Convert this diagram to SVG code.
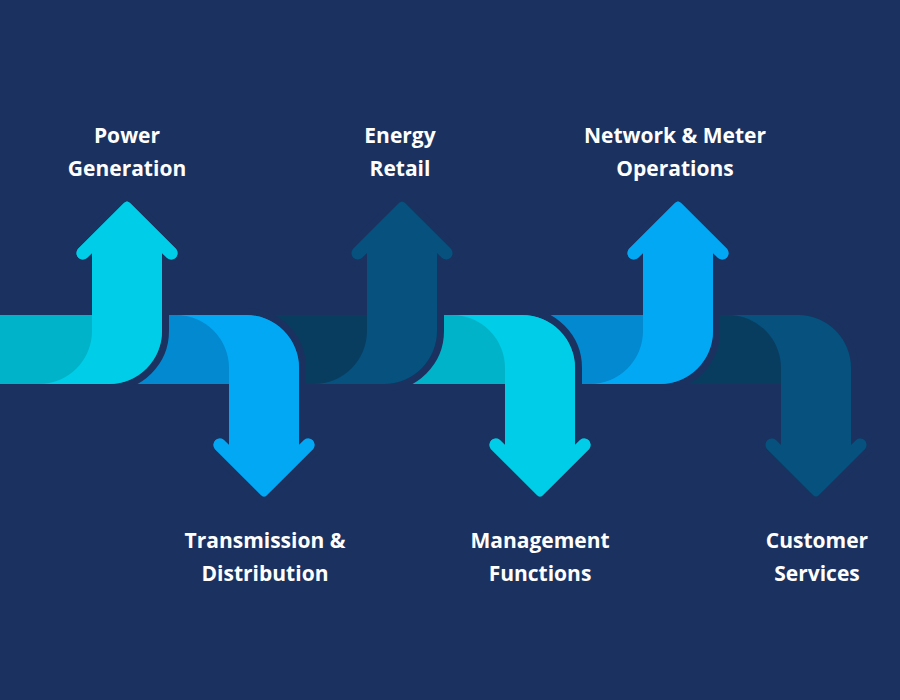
<svg xmlns="http://www.w3.org/2000/svg" width="900" height="700" viewBox="0 0 900 700">
<style>
.bg{fill:#1b3261}
.u{stroke:#1b3261;stroke-width:14;stroke-linejoin:round;paint-order:stroke}
.cyanB{fill:#00b3c9}.cyan{fill:#00cde7}
.blueB{fill:#0289cf}.blue{fill:#03a8f4}
.navyB{fill:#083d60}.navy{fill:#06517e}
text{font-family:"Open Sans","Liberation Sans",sans-serif;font-weight:700;font-size:21px;fill:#ffffff;text-anchor:middle}
</style>
<rect class="bg" x="0" y="0" width="900" height="700"/>
<g id="seg6-customer-services">
<path class="u navyB" d="M 638,315 L 798,315 A 53 53 0 0 1 851,368 L 851,445 L 856.1,439.9 A 6.4 6.4 0 0 1 865.1,448.9 L 819,495 Q 816,498 813,495 L 766.9,448.9 A 6.4 6.4 0 0 1 775.9,439.9 L 781,445 L 781,384 L 638,384 Z"/>
<path class="navy" d="M 728,315 L 798,315 A 53 53 0 0 1 851,368 L 851,445 L 856.1,439.9 A 6.4 6.4 0 0 1 865.1,448.9 L 819,495 Q 816,498 813,495 L 766.9,448.9 A 6.4 6.4 0 0 1 775.9,439.9 L 781,445 L 781,368 A 53 53 0 0 0 728,315 Z"/>
<text x="817" y="548">Customer</text>
<text x="817" y="581">Services</text>
</g>
<g id="seg5-network-meter">
<path class="u blueB" d="M 500,315 L 643,315 L 643,253 L 637.9,258.1 A 6.4 6.4 0 0 1 628.9,249.1 L 675,203 Q 678,200 681,203 L 727.1,249.1 A 6.4 6.4 0 0 1 718.1,258.1 L 713,253 L 713,331 A 53 53 0 0 1 660,384 L 500,384 Z"/>
<path class="blue" d="M 590,384 A 53 53 0 0 0 643,331 L 643,253 L 637.9,258.1 A 6.4 6.4 0 0 1 628.9,249.1 L 675,203 Q 678,200 681,203 L 727.1,249.1 A 6.4 6.4 0 0 1 718.1,258.1 L 713,253 L 713,331 A 53 53 0 0 1 660,384 Z"/>
<text x="675" y="143">Network &amp; Meter</text>
<text x="675" y="176">Operations</text>
</g>
<g id="seg4-management">
<path class="u cyanB" d="M 362,315 L 522,315 A 53 53 0 0 1 575,368 L 575,445 L 580.1,439.9 A 6.4 6.4 0 0 1 589.1,448.9 L 543,495 Q 540,498 537,495 L 490.9,448.9 A 6.4 6.4 0 0 1 499.9,439.9 L 505,445 L 505,384 L 362,384 Z"/>
<path class="cyan" d="M 452,315 L 522,315 A 53 53 0 0 1 575,368 L 575,445 L 580.1,439.9 A 6.4 6.4 0 0 1 589.1,448.9 L 543,495 Q 540,498 537,495 L 490.9,448.9 A 6.4 6.4 0 0 1 499.9,439.9 L 505,445 L 505,368 A 53 53 0 0 0 452,315 Z"/>
<text x="540" y="548">Management</text>
<text x="540" y="581">Functions</text>
</g>
<g id="seg3-energy-retail">
<path class="u navyB" d="M 224,315 L 367,315 L 367,253 L 361.9,258.1 A 6.4 6.4 0 0 1 352.9,249.1 L 399,203 Q 402,200 405,203 L 451.1,249.1 A 6.4 6.4 0 0 1 442.1,258.1 L 437,253 L 437,331 A 53 53 0 0 1 384,384 L 224,384 Z"/>
<path class="navy" d="M 314,384 A 53 53 0 0 0 367,331 L 367,253 L 361.9,258.1 A 6.4 6.4 0 0 1 352.9,249.1 L 399,203 Q 402,200 405,203 L 451.1,249.1 A 6.4 6.4 0 0 1 442.1,258.1 L 437,253 L 437,331 A 53 53 0 0 1 384,384 Z"/>
<text x="400" y="143">Energy</text>
<text x="400" y="176">Retail</text>
</g>
<g id="seg2-transmission">
<path class="u blueB" d="M 87,315 L 246,315 A 53 53 0 0 1 299,368 L 299,445 L 304.1,439.9 A 6.4 6.4 0 0 1 313.1,448.9 L 267,495 Q 264,498 261,495 L 214.9,448.9 A 6.4 6.4 0 0 1 223.9,439.9 L 229,445 L 229,384 L 87,384 Z"/>
<path class="blue" d="M 176,315 L 246,315 A 53 53 0 0 1 299,368 L 299,445 L 304.1,439.9 A 6.4 6.4 0 0 1 313.1,448.9 L 267,495 Q 264,498 261,495 L 214.9,448.9 A 6.4 6.4 0 0 1 223.9,439.9 L 229,445 L 229,368 A 53 53 0 0 0 176,315 Z"/>
<text x="265" y="548">Transmission &amp;</text>
<text x="265" y="581">Distribution</text>
</g>
<g id="seg1-power-generation">
<path class="u cyanB" d="M -10,315 L 92,315 L 92,253 L 86.9,258.1 A 6.4 6.4 0 0 1 77.9,249.1 L 124,203 Q 127,200 130,203 L 176.1,249.1 A 6.4 6.4 0 0 1 167.1,258.1 L 162,253 L 162,331 A 53 53 0 0 1 109,384 L -10,384 Z"/>
<path class="cyan" d="M 39,384 A 53 53 0 0 0 92,331 L 92,253 L 86.9,258.1 A 6.4 6.4 0 0 1 77.9,249.1 L 124,203 Q 127,200 130,203 L 176.1,249.1 A 6.4 6.4 0 0 1 167.1,258.1 L 162,253 L 162,331 A 53 53 0 0 1 109,384 Z"/>
<text x="127" y="143">Power</text>
<text x="127" y="176">Generation</text>
</g>
<g id="connectors"></g>
</svg>
